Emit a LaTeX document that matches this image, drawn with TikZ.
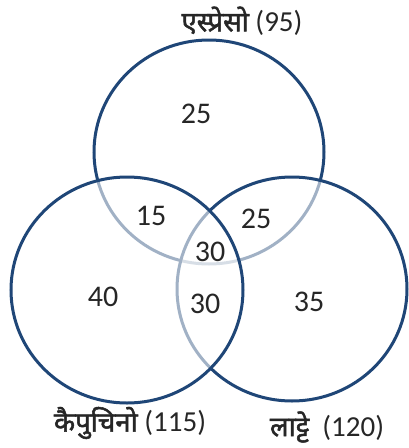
\documentclass[tikz,border=0pt]{standalone}
\usepackage{fontspec}
\setmainfont{Carlito}
\newfontfamily\deva[Script=Devanagari,Scale=0.95,FakeBold=1.8]{Noto Sans}
\definecolor{ringblue}{HTML}{1F4677}
\begin{document}
\begin{tikzpicture}[x=1pt,y=-1pt,
  ring/.style={draw=ringblue, line width=3pt},
  veil/.style={fill=white, fill opacity=0.58},
  num/.style={font=\fontsize{30}{34}\selectfont, text=black!85, inner sep=0pt},
  captext/.style={font=\fontsize{29}{33}\selectfont, text=black!85, inner sep=0pt}]
\useasboundingbox (0,0) rectangle (408,448);
% top circle (espresso)
\draw[ring] (209,152) ellipse [x radius=115, y radius=112];
% right circle (latte)
\fill[veil] (292,289) ellipse [x radius=115, y radius=112];
\draw[ring] (292,289) ellipse [x radius=115, y radius=112];
% left circle (cappuccino)
\fill[veil] (127,290) ellipse [x radius=116, y radius=113];
\draw[ring] (127,290) ellipse [x radius=116, y radius=113];
% numbers
\node[num] (e) at (196,114) {25};
\node[num] (ec) at (151,216) {15};
\node[num] (el) at (256,219) {25};
\node[num] (ecl) at (210,252) {30};
\node[num] (c) at (103,297) {40};
\node[num] (cl) at (205,304) {30};
\node[num] (l) at (309,302) {35};
% captions
\node[captext] (te) at (242,21) {{\deva एस्प्रेसो} (95)};
\node[captext] (tc) at (130,423) {{\deva कैपुचिनो} (115)};
\node[captext] (tl) at (327,427) {{\deva लाट्टे}\ \ (120)};
\end{tikzpicture}
\end{document}
